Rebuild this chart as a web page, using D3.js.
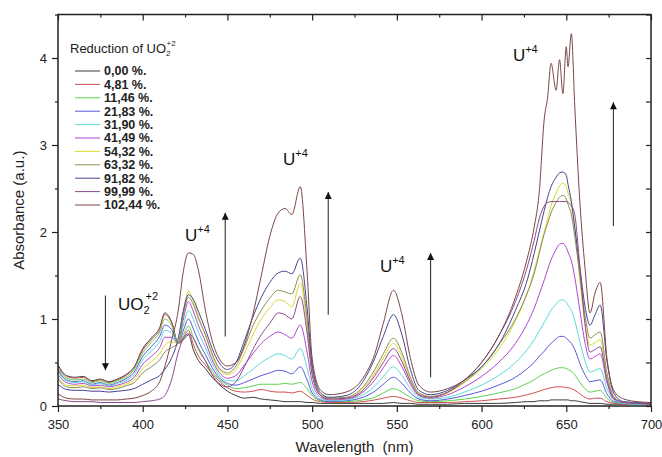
<!DOCTYPE html>
<html>
<head>
<meta charset="utf-8">
<script src="https://cdn.jsdelivr.net/npm/d3@7"></script>
<style>
  body { margin: 0; background: #fff; }
  svg { display: block; font-family: Arial, "Liberation Sans", sans-serif; }
</style>
</head>
<body>
<svg id="chart" width="662" height="457"></svg>
<script>
// shared wavelength grid (nm), finer where the peaks are
const wavelengths = [
  350,355,360,365,370,375,380,385,390,395,400,
  405,410,413,417,421,424,427,430,433,437,441,445,
  450,455,460,465,470,475,480,
  484,488,493,497,500,505,510,
  520,530,537,542,548,553,558,563,570,580,590,600,610,620,
  627,631,634,637,639,641,644,646,648,650,651,653,655,658,661,664,667,670,674,678,684,692,700
];

const reductionLabels = ['0,00 %.', '4,81 %.', '11,46 %.', '21,83 %.', '31,90 %.', '41,49 %.',
  '54,32 %.', '63,32 %.', '91,82 %.', '99,99 %.', '102,44 %.'];

const lineColors = ['#3a3a3a', '#d05050', '#5cd24c', '#5858d8', '#5cd8d8', '#b444d0',
  '#dada30', '#8c8c56', '#444490', '#8c4a8c', '#7c4646'];

const abs000 = [
  0.47,0.35,0.33,0.34,0.29,0.31,0.28,0.31,0.36,0.45,0.66,
  0.78,0.9,1.07,0.97,0.72,0.76,0.82,0.64,0.52,0.43,0.33,0.25,
  0.17,0.12,0.09,0.1,0.08,0.07,0.06,
  0.05,0.05,0.05,0.04,0.04,0.03,0.03,
  0.03,0.03,0.03,0.03,0.04,0.03,0.03,0.02,0.02,0.02,0.03,0.03,0.03,0.04,
  0.05,0.05,0.06,0.06,0.06,0.07,0.07,0.07,0.07,0.07,0.07,0.06,0.06,0.05,0.04,0.03,0.03,0.03,0.02,0.02,0.02,0.02,0.02
];
const abs481 = [
  0.45,0.34,0.32,0.33,0.28,0.3,0.27,0.3,0.35,0.44,0.64,
  0.76,0.88,1.05,0.96,0.72,0.79,0.87,0.7,0.57,0.47,0.37,0.29,
  0.21,0.17,0.16,0.17,0.19,0.17,0.16,
  0.16,0.15,0.17,0.12,0.08,0.05,0.04,
  0.04,0.05,0.07,0.09,0.11,0.09,0.06,0.04,0.04,0.04,0.05,0.06,0.08,0.1,
  0.13,0.15,0.17,0.19,0.2,0.21,0.22,0.22,0.22,0.21,0.21,0.2,0.18,0.14,0.1,0.08,0.09,0.09,0.05,0.03,0.02,0.02,0.02
];
const abs1146 = [
  0.43,0.32,0.3,0.31,0.27,0.29,0.26,0.29,0.33,0.42,0.61,
  0.73,0.85,1.0,0.93,0.72,0.82,0.92,0.78,0.64,0.52,0.4,0.31,
  0.24,0.2,0.21,0.23,0.25,0.25,0.25,
  0.26,0.25,0.27,0.2,0.12,0.06,0.05,
  0.05,0.07,0.1,0.15,0.2,0.16,0.1,0.06,0.05,0.06,0.08,0.11,0.15,0.2,
  0.26,0.3,0.34,0.37,0.39,0.41,0.43,0.44,0.44,0.43,0.42,0.4,0.36,0.27,0.2,0.16,0.17,0.18,0.09,0.04,0.03,0.02,0.02
];
const abs2183 = [
  0.41,0.3,0.28,0.29,0.25,0.27,0.24,0.27,0.31,0.39,0.57,
  0.68,0.8,0.93,0.88,0.72,0.87,1.0,0.88,0.74,0.59,0.44,0.33,
  0.26,0.24,0.27,0.31,0.35,0.38,0.41,
  0.4,0.37,0.45,0.3,0.15,0.07,0.05,
  0.06,0.1,0.17,0.25,0.33,0.26,0.15,0.08,0.06,0.08,0.12,0.17,0.24,0.33,
  0.43,0.5,0.57,0.63,0.68,0.72,0.77,0.8,0.8,0.78,0.76,0.72,0.65,0.49,0.36,0.28,0.29,0.3,0.14,0.05,0.03,0.02,0.02
];
const abs3190 = [
  0.39,0.29,0.27,0.28,0.24,0.26,0.23,0.26,0.29,0.36,0.53,
  0.63,0.74,0.87,0.84,0.72,0.93,1.1,0.99,0.84,0.67,0.49,0.36,
  0.29,0.29,0.35,0.42,0.5,0.56,0.6,
  0.58,0.54,0.66,0.44,0.2,0.08,0.06,
  0.07,0.13,0.23,0.34,0.45,0.35,0.2,0.1,0.08,0.1,0.16,0.24,0.35,0.5,
  0.65,0.76,0.86,0.96,1.03,1.1,1.17,1.21,1.22,1.19,1.16,1.1,0.98,0.74,0.52,0.39,0.41,0.43,0.2,0.07,0.03,0.02,0.02
];
const abs4149 = [
  0.36,0.27,0.25,0.26,0.23,0.24,0.22,0.24,0.27,0.33,0.48,
  0.57,0.67,0.79,0.79,0.72,1.0,1.2,1.08,0.92,0.74,0.53,0.39,
  0.32,0.35,0.47,0.6,0.72,0.8,0.85,
  0.82,0.78,0.93,0.62,0.28,0.1,0.07,
  0.08,0.16,0.3,0.44,0.58,0.45,0.25,0.12,0.09,0.13,0.22,0.34,0.5,0.72,
  0.95,1.12,1.28,1.45,1.57,1.68,1.8,1.86,1.87,1.82,1.77,1.67,1.48,1.1,0.73,0.54,0.57,0.6,0.27,0.08,0.04,0.03,0.02
];
const abs5432 = [
  0.33,0.24,0.23,0.24,0.21,0.22,0.2,0.22,0.25,0.3,0.43,
  0.51,0.6,0.7,0.74,0.72,1.08,1.32,1.2,1.02,0.81,0.58,0.42,
  0.36,0.42,0.6,0.82,1.0,1.13,1.22,
  1.2,1.14,1.41,0.93,0.4,0.12,0.08,
  0.09,0.2,0.38,0.55,0.72,0.56,0.3,0.14,0.1,0.15,0.27,0.43,0.65,0.98,
  1.3,1.55,1.78,2.0,2.15,2.3,2.45,2.53,2.56,2.52,2.45,2.32,2.05,1.45,0.95,0.7,0.73,0.76,0.34,0.1,0.04,0.03,0.02
];
const abs6332 = [
  0.31,0.22,0.21,0.22,0.2,0.21,0.19,0.2,0.23,0.27,0.38,
  0.45,0.53,0.62,0.67,0.72,1.05,1.25,1.16,1.0,0.82,0.6,0.44,
  0.38,0.46,0.67,0.92,1.1,1.24,1.33,
  1.31,1.29,1.51,1.0,0.43,0.13,0.09,
  0.1,0.22,0.42,0.6,0.78,0.61,0.33,0.15,0.11,0.16,0.28,0.45,0.7,1.0,
  1.3,1.52,1.75,1.98,2.1,2.22,2.34,2.4,2.42,2.38,2.32,2.2,1.95,1.5,1.05,0.78,0.82,0.85,0.38,0.11,0.04,0.03,0.02
];
const abs9182 = [
  0.25,0.19,0.18,0.18,0.17,0.17,0.16,0.17,0.18,0.2,0.25,
  0.3,0.35,0.42,0.55,0.78,1.1,1.28,1.22,1.08,0.88,0.66,0.5,
  0.42,0.5,0.75,1.02,1.25,1.42,1.53,
  1.55,1.52,1.7,1.13,0.48,0.15,0.1,
  0.12,0.28,0.55,0.8,1.05,0.82,0.42,0.18,0.13,0.18,0.3,0.45,0.7,1.1,
  1.45,1.75,2.0,2.25,2.4,2.52,2.63,2.68,2.69,2.65,2.55,2.35,2.05,1.6,1.15,0.93,1.05,1.16,0.52,0.15,0.05,0.04,0.03
];
const abs9999 = [
  0.08,0.06,0.05,0.05,0.05,0.04,0.04,0.04,0.04,0.04,0.05,
  0.06,0.08,0.12,0.3,0.62,0.78,0.83,0.78,0.66,0.52,0.36,0.26,
  0.22,0.28,0.45,0.65,0.82,0.95,1.07,
  1.05,1.0,1.26,0.84,0.36,0.12,0.08,
  0.09,0.18,0.35,0.5,0.66,0.51,0.28,0.13,0.1,0.16,0.3,0.5,0.8,1.2,
  1.6,1.9,2.15,2.3,2.34,2.35,2.35,2.35,2.35,2.35,2.34,2.3,2.2,1.6,0.95,0.62,0.65,0.68,0.3,0.09,0.04,0.03,0.02
];
const abs10244 = [
  0.14,0.09,0.08,0.08,0.07,0.07,0.07,0.07,0.08,0.09,0.12,
  0.17,0.28,0.45,0.75,1.1,1.55,1.76,1.74,1.55,1.1,0.75,0.55,
  0.46,0.5,0.7,1.05,1.5,1.95,2.22,
  2.27,2.2,2.52,1.55,0.55,0.18,0.13,
  0.16,0.32,0.6,0.95,1.33,1.05,0.55,0.24,0.16,0.2,0.3,0.5,0.8,1.25,
  1.7,2.05,2.45,3.3,3.55,3.94,3.63,3.98,3.59,4.13,3.9,4.28,3.45,2.35,1.6,1.07,1.3,1.42,0.55,0.18,0.08,0.05,0.04
];

const spectra = [abs000, abs481, abs1146, abs2183, abs3190, abs4149,
  abs5432, abs6332, abs9182, abs9999, abs10244];

const xMajorTicks = [350, 400, 450, 500, 550, 600, 650, 700];
const xMinorTicks = [375, 425, 475, 525, 575, 625, 675];
const yMajorTicks = [0, 1, 2, 3, 4];
const yMinorTicks = [0.5, 1.5, 2.5, 3.5, 4.5];

// arrows: [wavelength, from, to]
const trendArrows = [[378, 1.27, 0.41], [448.7, 0.8, 2.22], [509.5, 1.05, 2.46],
  [569.9, 0.33, 1.76], [677.8, 2.07, 3.49]];
// band labels: [wavelength, absorbance, main, sub, sup]
const bandLabels = [[385.4, 1.10, 'UO', '2', '+2'], [425, 1.9, 'U', '', '+4'],
  [482.8, 2.77, 'U', '', '+4'], [540, 1.54, 'U', '', '+4'], [618.5, 3.96, 'U', '', '+4']];

class SpectraChart {
  constructor(el) {
    this.svg = d3.select(el);
    this.margin = { left: 58, right: 11, top: 14.5, bottom: 51 };
    this.width = 662 - this.margin.left - this.margin.right;
    this.height = 457 - this.margin.top - this.margin.bottom;
    this.x = d3.scaleLinear().domain([350, 700]).range([this.margin.left, this.margin.left + this.width]);
    this.y = d3.scaleLinear().domain([0, 4.5]).range([this.margin.top + this.height, this.margin.top]);
    this.drawSpectra();
    this.drawAxes();
    this.drawNotes();
    this.drawLegend();
  }

  drawSpectra() {
    let line = d3.line()
      .x((d, i) => this.x(wavelengths[i]))
      .y(d => this.y(d))
      .curve(d3.curveMonotoneX);

    this.svg.append('g')
      .selectAll('path')
      .data(spectra)
      .enter()
        .append('path')
        .attr('d', d => line(d))
        .attr('fill', 'none')
        .attr('stroke', (d, i) => lineColors[i])
        .attr('stroke-width', 1);
  }

  styleAxis(g, size) {
    g.select('.domain').remove();
    g.selectAll('line').attr('stroke', '#222').attr('stroke-width', 1.2);
    g.selectAll('text').attr('font-size', size).attr('fill', '#222');
  }

  drawAxes() {
    let bottom = this.margin.top + this.height;
    let right = this.margin.left + this.width;
    let fmt = d3.format('d');

    this.svg.append('g').attr('transform', `translate(0,${bottom})`)
      .call(d3.axisBottom(this.x).tickValues(xMajorTicks).tickSize(6).tickPadding(8).tickFormat(fmt))
      .call(g => this.styleAxis(g, 13));
    this.svg.append('g').attr('transform', `translate(0,${bottom})`)
      .call(d3.axisBottom(this.x).tickValues(xMinorTicks).tickSize(3).tickFormat(''))
      .call(g => this.styleAxis(g, 13));
    this.svg.append('g').attr('transform', `translate(0,${this.margin.top})`)
      .call(d3.axisBottom(this.x).tickValues(xMajorTicks).tickSize(6).tickFormat(''))
      .call(g => this.styleAxis(g, 13));
    this.svg.append('g').attr('transform', `translate(0,${this.margin.top})`)
      .call(d3.axisBottom(this.x).tickValues(xMinorTicks).tickSize(3).tickFormat(''))
      .call(g => this.styleAxis(g, 13));

    this.svg.append('g').attr('transform', `translate(${this.margin.left},0)`)
      .call(d3.axisLeft(this.y).tickValues(yMajorTicks).tickSize(6).tickPadding(5).tickFormat(fmt))
      .call(g => this.styleAxis(g, 13));
    this.svg.append('g').attr('transform', `translate(${this.margin.left},0)`)
      .call(d3.axisLeft(this.y).tickValues(yMinorTicks).tickSize(3).tickFormat(''))
      .call(g => this.styleAxis(g, 13));
    this.svg.append('g').attr('transform', `translate(${right},0)`)
      .call(d3.axisRight(this.y).tickValues(yMajorTicks.concat(yMinorTicks)).tickSize(-5).tickFormat(''))
      .call(g => this.styleAxis(g, 13));

    this.svg.append('rect')
      .attr('x', this.margin.left).attr('y', this.margin.top)
      .attr('width', this.width).attr('height', this.height)
      .attr('fill', 'none').attr('stroke', '#222').attr('stroke-width', 1.5);

    this.svg.append('text')
      .attr('x', this.margin.left + this.width / 2).attr('y', 452)
      .attr('text-anchor', 'middle').attr('font-size', 15).attr('fill', '#222')
      .style('white-space', 'pre')
      .text('Wavelength  (nm)');

    this.svg.append('text')
      .attr('transform', `translate(24,${this.margin.top + this.height / 2}) rotate(-90)`)
      .attr('text-anchor', 'middle').attr('font-size', 15).attr('fill', '#222')
      .text('Absorbance (a.u.)');
  }

  drawNotes() {
    this.svg.append('defs').append('marker')
      .attr('id', 'head')
      .attr('viewBox', '0 0 10 10')
      .attr('refX', 10).attr('refY', 5)
      .attr('markerUnits', 'userSpaceOnUse')
      .attr('markerWidth', 9).attr('markerHeight', 7)
      .attr('orient', 'auto')
      .append('path').attr('d', 'M0,0 L10,5 L0,10 z').attr('fill', '#111');

    this.svg.append('g')
      .selectAll('line')
      .data(trendArrows)
      .enter()
        .append('line')
        .attr('x1', d => this.x(d[0])).attr('x2', d => this.x(d[0]))
        .attr('y1', d => this.y(d[1])).attr('y2', d => this.y(d[2]))
        .attr('stroke', '#333').attr('stroke-width', 1.1)
        .attr('marker-end', 'url(#head)');

    let labels = this.svg.append('g')
      .selectAll('text')
      .data(bandLabels)
      .enter()
        .append('text')
        .attr('x', d => this.x(d[0])).attr('y', d => this.y(d[1]))
        .attr('font-size', 17).attr('fill', '#111');

    labels.append('tspan').text(d => d[2]);
    labels.filter(d => d[3]).append('tspan')
      .attr('font-size', 11).attr('dy', 4).text(d => d[3]);
    labels.append('tspan')
      .attr('font-size', 11)
      .attr('dx', d => d[3] ? -4 : 0)
      .attr('dy', d => d[3] ? -14 : -8)
      .text(d => d[4]);
  }

  drawLegend() {
    let lg = this.svg.append('g').attr('transform', 'translate(70,0)');

    let title = lg.append('text').attr('x', 0).attr('y', 53)
      .attr('font-size', 13).attr('fill', '#222');
    title.append('tspan').text('Reduction of UO');
    title.append('tspan').attr('font-size', 8).attr('dy', 3).text('2');
    title.append('tspan').attr('font-size', 8).attr('dx', -4).attr('dy', -10).text('+2');

    let rows = lg.selectAll('.row')
      .data(reductionLabels)
      .enter()
        .append('g')
        .attr('class', 'row')
        .attr('transform', (d, i) => `translate(0,${71 + i * 13.4})`);

    rows.append('line')
      .attr('x1', 5).attr('x2', 30)
      .attr('stroke', (d, i) => lineColors[i]).attr('stroke-width', 1);
    rows.append('text')
      .attr('x', 34).attr('dy', '0.35em')
      .attr('font-size', 12.5).attr('font-weight', 'bold').attr('fill', '#222')
      .text(d => d);
  }
}

new SpectraChart('#chart');
</script>
</body>
</html>
